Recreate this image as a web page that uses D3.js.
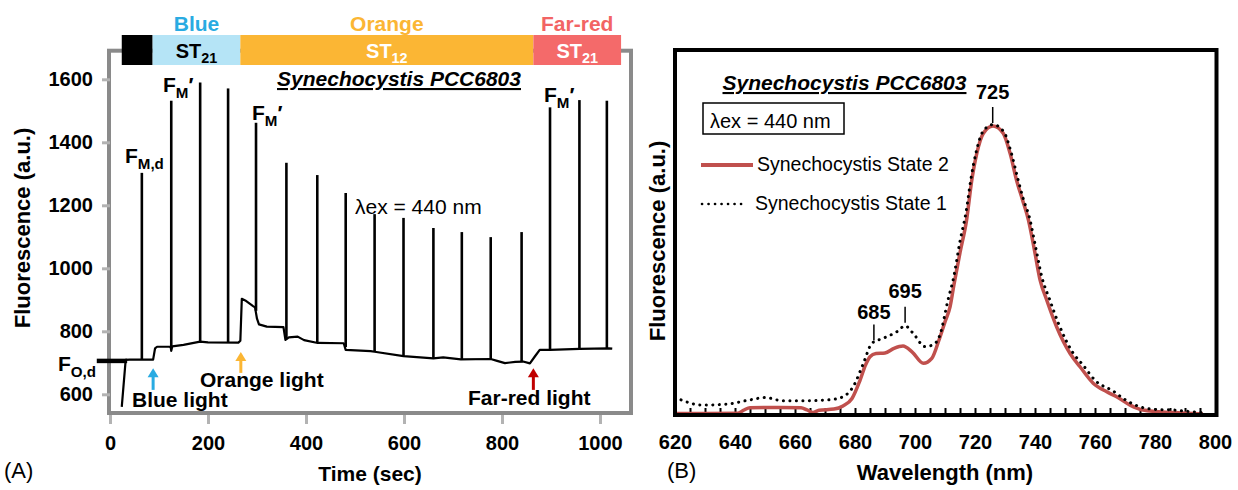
<!DOCTYPE html>
<html lang="en">
<head>
<meta charset="utf-8">
<title>State transitions - Synechocystis</title>
<script src="https://d3js.org/d3.v7.min.js"></script>
<style>
  body { margin: 0; background: #fff; }
  text { font-family: "Liberation Sans", Arial, sans-serif; fill: #000; }
  .b { font-weight: bold; }
</style>
</head>
<body>
<div id="chart"></div>
<script>
// ---- panel A: fluorescence trace ----
var baseTime  = [24,32,40,88,92,96,122,124,125,127,150,184,200,262,266,269,276,292,296,300,304,320,354,358,365,383,396,424,477,481,532,540,599,660,680,716,777,790,806,827,843,857,867,877,898,958,1018,1025];
var baseFluor = [560,709,710,710,746,751,751,748,738,752,757,767,765,764,770,903,898,880,876,840,822,815,813,773,781,783,772,763,762,741,737,735,721,714,717,711,712,706,699,703,704,698,720,741,741,744,746,745];
var spikeTime = [65,125,184,241,298,360,423,481,540,599,660,718,777,840,898,958,1014];
var spikeTop  = [1303,1532,1590,1571,1462,1335,1296,1239,1172,1160,1128,1115,1099,1115,1511,1534,1532];
var spikeBase = [710,750,766,764,865,775,765,750,735,721,714,711,712,704,741,744,746];
var darkLevel = 706;            // F0,d
var periodStart = [24,87,266,864];
var periodEnd   = [87,266,864,1043];
var periodName  = ['', 'Blue', 'Orange', 'Far-red'];
var periodState = ['', '21', '12', '21'];
var arrowTime = [88,267,864];
var arrowTip  = [683,734,683];
var arrowTail = [614,668,614];
var timeTicks  = [0,200,400,600,800,1000];
var fluorTicks = [600,800,1000,1200,1400,1600];

// ---- panel B: emission spectra (normalised) ----
var wl2 = [620,630,641,643,645,655,662,664,666,668,673,676,679,681.7,683.5,685,687,690,693,696,699,702.8,705.6,708,710,711.7,713,715,717.2,718.9,720.6,722.8,726,729.4,731.7,733.9,735.8,737.8,739.8,741.7,743.9,747.2,751.7,755,759.4,763.9,767.2,771.7,776,786,796];
var st2 = [0.002,0.002,0.003,0.014,0.022,0.023,0.022,0.014,0.005,0.013,0.017,0.028,0.054,0.118,0.17,0.199,0.21,0.212,0.228,0.236,0.216,0.176,0.193,0.257,0.32,0.373,0.45,0.56,0.674,0.81,0.905,0.975,1.0,0.975,0.905,0.81,0.745,0.674,0.57,0.465,0.396,0.303,0.21,0.164,0.107,0.077,0.06,0.031,0.014,0.005,0.0];
var wl1 = [622,629,637,645,650,656,664,672,676,679.4,682.8,685.6,689.4,694,696.7,699.4,703.3,706,708.3,711,713,715,717,718.7,720.4,722.6,726,729.6,732,734.2,736,738.2,740.2,742.3,744.8,748,752.5,756,760.2,766,770,775,780,786,790,796];
var st1 = [0.049,0.031,0.034,0.049,0.057,0.046,0.046,0.05,0.06,0.095,0.176,0.245,0.263,0.286,0.306,0.28,0.234,0.24,0.274,0.396,0.48,0.6,0.7,0.82,0.91,0.98,1.005,0.98,0.91,0.82,0.75,0.68,0.58,0.475,0.4,0.31,0.215,0.17,0.115,0.08,0.05,0.025,0.016,0.014,0.01,0.005];
var waveTicks = [620,640,660,680,700,720,740,760,780,800];
var peakLabels = ['685', '695', '725'];

var svg = d3.select('#chart').append('svg')
    .attr('width', 1238)
    .attr('height', 490);

// helper: text with a subscript (and optional prime)
function subText(g, x, y, main, sub, size, prime, anchor, drop) {
  var d = drop || size * 0.3;
  var t = g.append('text').attr('class', 'b')
      .attr('x', x).attr('y', y)
      .attr('text-anchor', anchor || 'start')
      .style('font-size', size + 'px');
  t.append('tspan').text(main);
  t.append('tspan').attr('dy', d).style('font-size', (size * 0.72) + 'px').text(sub);
  if (prime) t.append('tspan').attr('dy', -d).text('\u2032');
  return t;
}

/* ================= Panel A ================= */
var xA = d3.scaleLinear().domain([0, 1000]).range([110, 600]);
var yA = d3.scaleLinear().domain([600, 1600]).range([394.3, 79.3]);
var gA = svg.append('g');

gA.append('rect')
    .attr('x', 109).attr('y', 50.7)
    .attr('width', 522).attr('height', 362.3)
    .attr('fill', 'none').attr('stroke', '#8a8a8a').attr('stroke-width', 4);

// axes
gA.append('g')
    .attr('transform', 'translate(0,415)')
    .call(d3.axisBottom(xA).tickValues(timeTicks).tickFormat(d3.format('d')).tickSize(9).tickPadding(12))
    .call(function(g) { g.select('.domain').remove(); })
    .call(function(g) { g.selectAll('line').attr('stroke', '#b3b3b3').attr('stroke-width', 3); })
    .call(function(g) { g.selectAll('text').attr('class', 'b').style('font-size', '20px'); });

gA.append('g')
    .attr('transform', 'translate(110,0)')
    .call(d3.axisLeft(yA).tickValues(fluorTicks).tickFormat(d3.format('d')).tickSize(8).tickPadding(9))
    .call(function(g) { g.select('.domain').remove(); })
    .call(function(g) { g.selectAll('line').attr('stroke', '#b3b3b3').attr('stroke-width', 3); })
    .call(function(g) { g.selectAll('text').attr('class', 'b').style('font-size', '20px'); });

// light period bar
var barFill = ['#000000', '#b5e4f6', '#fbb634', '#f46a6a'];
var titleFill = ['#000', '#29abe2', '#fbb634', '#f26464'];
var stFill = ['#000', '#000', '#fff', '#fff'];
gA.selectAll('.period')
    .data(periodStart)
    .enter().append('rect')
      .attr('class', 'period')
      .attr('x', function(d) { return xA(d); })
      .attr('width', function(d, i) { return xA(periodEnd[i]) - xA(d); })
      .attr('y', 35).attr('height', 30)
      .attr('fill', function(d, i) { return barFill[i]; });

periodStart.forEach(function(d, i) {
  if (!periodName[i]) return;
  var cx = (xA(d) + xA(periodEnd[i])) / 2;
  gA.append('text').attr('class', 'b')
      .attr('x', cx).attr('y', 31)
      .attr('text-anchor', 'middle')
      .style('font-size', '21px')
      .style('fill', titleFill[i])
      .text(periodName[i]);
  subText(gA, cx, 58, 'ST', periodState[i], 20, false, 'middle', 4.5)
      .style('fill', stFill[i]).selectAll('tspan').style('fill', stFill[i]);
});

// dark level marker
gA.append('line')
    .attr('x1', xA(-27)).attr('x2', xA(35))
    .attr('y1', yA(darkLevel)).attr('y2', yA(darkLevel))
    .attr('stroke', '#000').attr('stroke-width', 4.5);

// baseline trace
var lineA = d3.line()
    .x(function(d) { return xA(d[0]); })
    .y(function(d) { return yA(d[1]); });
gA.append('path')
    .datum(baseTime.map(function(t, i) { return [t, baseFluor[i]]; }))
    .attr('d', lineA)
    .attr('fill', 'none').attr('stroke', '#000').attr('stroke-width', 2.2)
    .attr('stroke-linejoin', 'round');

// saturating pulses
gA.selectAll('.spike')
    .data(spikeTime)
    .enter().append('line')
      .attr('class', 'spike')
      .attr('x1', function(d) { return xA(d); })
      .attr('x2', function(d) { return xA(d); })
      .attr('y1', function(d, i) { return yA(spikeBase[i]); })
      .attr('y2', function(d, i) { return yA(spikeTop[i]); })
      .attr('stroke', '#000').attr('stroke-width', 2.6);

// arrows for light switches
var arrowFill = ['#29abe2', '#fbb634', '#c00000'];
arrowTime.forEach(function(t, i) {
  var x = xA(t), yt = yA(arrowTip[i]), yb = yA(arrowTail[i]);
  gA.append('line')
      .attr('x1', x).attr('x2', x).attr('y1', yt + 6).attr('y2', yb)
      .attr('stroke', arrowFill[i]).attr('stroke-width', 3);
  gA.append('path')
      .attr('d', 'M' + (x - 5.5) + ',' + (yt + 9) + 'L' + x + ',' + yt + 'L' + (x + 5.5) + ',' + (yt + 9) + 'Z')
      .attr('fill', arrowFill[i]);
});

// annotations
gA.append('text').attr('class', 'b').attr('x', 132).attr('y', 407).style('font-size', '21px').text('Blue light');
gA.append('text').attr('class', 'b').attr('x', 200).attr('y', 387).style('font-size', '21px').text('Orange light');
gA.append('text').attr('class', 'b').attr('x', 468).attr('y', 405).style('font-size', '21px').text('Far-red light');

subText(gA, 125, 163, 'F', 'M,d', 21);
subText(gA, 163, 92, 'F', 'M', 21, true);
subText(gA, 252, 120, 'F', 'M', 21, true);
subText(gA, 544, 102, 'F', 'M', 21, true);
subText(gA, 96, 371, 'F', 'O,d', 21, false, 'end');

gA.append('text').attr('class', 'b')
    .attr('x', 399).attr('y', 86).attr('text-anchor', 'middle')
    .style('font-size', '21px').style('font-style', 'italic').style('text-decoration', 'underline')
    .text('Synechocystis PCC6803');
gA.append('text')
    .attr('x', 355).attr('y', 214)
    .style('font-size', '21px')
    .text('\u03bbex = 440 nm');

gA.append('text').attr('class', 'b')
    .attr('x', 370).attr('y', 481).attr('text-anchor', 'middle')
    .style('font-size', '21px').text('Time (sec)');
gA.append('text').attr('class', 'b')
    .attr('transform', 'translate(30,228) rotate(-90)')
    .attr('text-anchor', 'middle')
    .style('font-size', '22px').text('Fluorescence (a.u.)');
gA.append('text').attr('x', 4).attr('y', 478).style('font-size', '22px').text('(A)');

/* ================= Panel B ================= */
var xB = d3.scaleLinear().domain([620, 800]).range([675, 1215]);
var yB = d3.scaleLinear().domain([0, 1]).range([414, 126]);
var gB = svg.append('g');

gB.append('g')
    .attr('transform', 'translate(0,413)')
    .call(d3.axisBottom(xB).tickValues(d3.range(625, 800, 5)).tickSize(-5).tickFormat(''))
    .call(function(g) { g.select('.domain').remove(); })
    .call(function(g) { g.selectAll('line').attr('stroke', '#000').attr('stroke-width', 2); });

gB.append('g')
    .attr('transform', 'translate(0,415)')
    .call(d3.axisBottom(xB).tickValues(waveTicks).tickSize(0).tickPadding(20))
    .call(function(g) { g.select('.domain').remove(); })
    .call(function(g) { g.selectAll('text').attr('class', 'b').style('font-size', '20px'); });

var lineB = d3.line()
    .x(function(d) { return xB(d[0]); })
    .y(function(d) { return yB(d[1]); })
    .curve(d3.curveMonotoneX);

gB.append('path')
    .datum(wl2.map(function(w, i) { return [w, st2[i]]; }))
    .attr('d', lineB)
    .attr('fill', 'none').attr('stroke', '#c0504d').attr('stroke-width', 3.5);

gB.append('path')
    .datum(wl1.map(function(w, i) { return [w, st1[i]]; }))
    .attr('d', lineB)
    .attr('fill', 'none').attr('stroke', '#000').attr('stroke-width', 3)
    .attr('stroke-linecap', 'round').attr('stroke-dasharray', '0.1 6.4');

gB.append('rect')
    .attr('x', 675).attr('y', 50)
    .attr('width', 541.5).attr('height', 365)
    .attr('fill', 'none').attr('stroke', '#000').attr('stroke-width', 4);

// peak labels
var peakX = [686.3, 696.7, 725.9];
var peakY = [0.245, 0.306, 1.0];
var labelGap = [24, 28, 27];
peakLabels.forEach(function(p, i) {
  var x = xB(peakX[i]), y = yB(peakY[i]);
  gB.append('line')
      .attr('x1', x).attr('x2', x).attr('y1', y - 3).attr('y2', y - 19)
      .attr('stroke', '#000').attr('stroke-width', 1.5);
  gB.append('text').attr('class', 'b')
      .attr('x', x).attr('y', y - labelGap[i])
      .attr('text-anchor', 'middle')
      .style('font-size', '20px').text(p);
});

gB.append('text').attr('class', 'b')
    .attr('x', 722.5).attr('y', 90)
    .style('font-size', '21px').style('font-style', 'italic').style('text-decoration', 'underline')
    .text('Synechocystis PCC6803');
gB.append('rect')
    .attr('x', 703).attr('y', 103).attr('width', 141).attr('height', 31)
    .attr('fill', 'none').attr('stroke', '#000').attr('stroke-width', 1.5);
gB.append('text').attr('x', 710).attr('y', 128).style('font-size', '20px').text('\u03bbex = 440 nm');

// legend
gB.append('line').attr('x1', 701).attr('x2', 753).attr('y1', 165).attr('y2', 165)
    .attr('stroke', '#c0504d').attr('stroke-width', 4);
gB.append('text').attr('x', 757).attr('y', 171).style('font-size', '19.5px').text('Synechocystis State 2');
gB.append('line').attr('x1', 702).attr('x2', 747).attr('y1', 204).attr('y2', 204)
    .attr('stroke', '#000').attr('stroke-width', 2.6)
    .attr('stroke-linecap', 'round').attr('stroke-dasharray', '0.1 6.4');
gB.append('text').attr('x', 755).attr('y', 210).style('font-size', '19.5px').text('Synechocystis State 1');

gB.append('text').attr('class', 'b')
    .attr('x', 945).attr('y', 480).attr('text-anchor', 'middle')
    .style('font-size', '22px').text('Wavelength (nm)');
gB.append('text').attr('class', 'b')
    .attr('transform', 'translate(665,241) rotate(-90)')
    .attr('text-anchor', 'middle')
    .style('font-size', '22px').text('Fluorescence (a.u.)');
gB.append('text').attr('x', 667).attr('y', 478).style('font-size', '22px').text('(B)');
</script>
</body>
</html>
